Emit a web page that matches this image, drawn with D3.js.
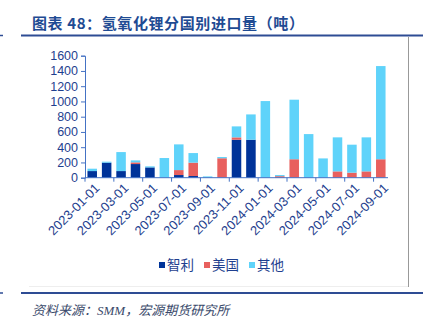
<!DOCTYPE html>
<html><head><meta charset="utf-8">
<script src="https://cdn.jsdelivr.net/npm/d3@7"></script>
<style>body{margin:0;background:#fff}svg{display:block}</style>
</head><body>
<script>
const categories = ["2023-01-01","2023-02-01","2023-03-01","2023-04-01","2023-05-01","2023-06-01","2023-07-01","2023-08-01","2023-09-01","2023-10-01","2023-11-01","2023-12-01","2024-01-01","2024-02-01","2024-03-01","2024-04-01","2024-05-01","2024-06-01","2024-07-01","2024-08-01","2024-09-01"];
const chile = [87,197,87,179,135,0,35,22,0,0,498,498,0,0,0,0,0,0,0,0,0];
const usa   = [0,0,0,22,0,0,65,175,0,255,31,0,0,20,242,0,0,83,66,83,242];
const other = [31,13,249,26,14,258,337,126,17,16,144,332,1005,15,781,572,253,446,367,446,1222];
const seriesNames = ["智利","美国","其他"];
const colors = ["#003399","#E8605E","#5FD3FA"];
const yTicks = [0,200,400,600,800,1000,1200,1400,1600];

const W=435,H=326;
const svg=d3.select("body").append("svg").attr("width",W).attr("height",H);
const navy="#1F3F8F";

// title
svg.append("text").attr("x",32).attr("y",29).attr("fill","#1F4B93")
  .attr("font-family","Noto Sans CJK SC").attr("font-weight","bold").attr("font-size",15)
  .attr("letter-spacing",0.6).text("图表 48：氢氧化锂分国别进口量（吨）");
svg.append("line").attr("x1",21).attr("x2",423).attr("y1",35.5).attr("y2",35.5).attr("stroke","#2E4C94").attr("stroke-width",1.8);
svg.append("line").attr("x1",0).attr("x2",3).attr("y1",35.5).attr("y2",35.5).attr("stroke","#2E4C94").attr("stroke-width",1.5);
// frame
svg.append("line").attr("x1",408.5).attr("x2",408.5).attr("y1",37).attr("y2",287).attr("stroke","#999").attr("stroke-width",1);
svg.append("line").attr("x1",29).attr("x2",408).attr("y1",286.5).attr("y2",286.5).attr("stroke","#eee").attr("stroke-width",1);

const x=d3.scaleBand().domain(categories).range([85,388]).paddingInner(0.34).paddingOuter(0.17);
const y=d3.scaleLinear().domain([0,1600]).range([177.7,55.7]);

const rows=categories.map((c,i)=>({cat:c,"智利":chile[i],"美国":usa[i],"其他":other[i]}));
const stacked=d3.stack().keys(seriesNames)(rows);
svg.append("g").selectAll("g").data(stacked).join("g").attr("fill",(d,i)=>colors[i])
  .selectAll("rect").data(d=>d).join("rect")
  .attr("x",d=>x(d.data.cat)).attr("width",x.bandwidth())
  .attr("y",d=>y(d[1])).attr("height",d=>Math.max(0,y(d[0])-y(d[1])));

// y axis
const axisCol="#4472C4";
const ya=svg.append("g").attr("transform","translate(85,0)")
  .call(d3.axisLeft(y).tickValues(yTicks).tickFormat(d3.format("d")).tickSize(4).tickPadding(3));
ya.select(".domain").attr("stroke",axisCol);
ya.selectAll(".tick line").attr("stroke",axisCol);
ya.selectAll("text").attr("fill",navy).attr("font-family","Liberation Sans, Arial").attr("font-size",12.5);

// x axis
const xa=svg.append("g").attr("transform","translate(0,177.7)");
xa.append("line").attr("x1",85).attr("x2",388).attr("stroke",axisCol);
const labeled=categories.filter((c,i)=>i%2===0);
const gap=(x.step()-x.bandwidth())/2;
xa.selectAll("line.t").data(labeled).join("line").attr("class","t")
  .attr("x1",d=>x(d)-gap).attr("x2",d=>x(d)-gap).attr("y1",0).attr("y2",4).attr("stroke",axisCol);
xa.selectAll("text").data(labeled).join("text")
  .attr("transform",d=>`translate(${x(d)+x.bandwidth()/2+5},${8}) rotate(-45)`)
  .attr("text-anchor","end").attr("dy","0.35em")
  .attr("fill",navy).attr("font-family","Liberation Sans, Arial").attr("font-size",13).text(d=>d);

// legend
const lg=svg.append("g");
const lx=[159,204,249];
seriesNames.forEach((n,i)=>{
  lg.append("rect").attr("x",lx[i]).attr("y",262).attr("width",6).attr("height",6).attr("fill",colors[i]);
  lg.append("text").attr("x",lx[i]+8).attr("y",270).attr("fill",navy)
    .attr("font-family","Noto Sans CJK SC").attr("font-size",13.5).text(n);
});

// bottom
svg.append("line").attr("x1",21).attr("x2",423).attr("y1",293).attr("y2",293).attr("stroke","#2E4C94").attr("stroke-width",1.8);
svg.append("line").attr("x1",0).attr("x2",3).attr("y1",293).attr("y2",293).attr("stroke","#2E4C94").attr("stroke-width",1.5);
svg.append("text").attr("x",32).attr("y",315).attr("fill","#3A4A6B").attr("font-style","italic")
  .attr("font-family","Liberation Serif, Noto Sans CJK SC").attr("font-size",13).text("资料来源：SMM，宏源期货研究所");
</script>
</body></html>
